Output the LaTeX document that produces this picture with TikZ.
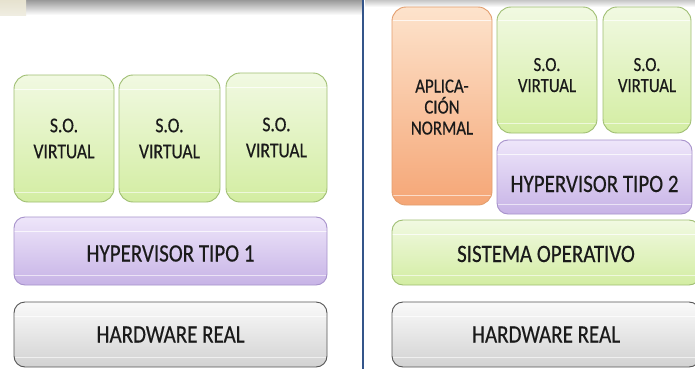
\documentclass[tikz,border=0pt]{standalone}
\usepackage{fontspec}
\setmainfont{Carlito}
\newfontfamily\labelfont[FakeStretch=0.84, FakeBold=0.4]{Carlito}
\definecolor{txt}{HTML}{1A1A1A}
\definecolor{grnTop}{HTML}{F1F9E2}
\definecolor{grnBot}{HTML}{D3EDA2}
\definecolor{grnEdge}{HTML}{9FBE72}
\definecolor{purTop}{HTML}{EEE6FA}
\definecolor{purBot}{HTML}{C7B3E6}
\definecolor{purEdge}{HTML}{A792CB}
\definecolor{gryTop}{HTML}{FAFAFA}
\definecolor{gryBot}{HTML}{D2D2D2}
\definecolor{gryEdge}{HTML}{555555}
\definecolor{orgTop}{HTML}{FDE3CC}
\definecolor{orgBot}{HTML}{F5A676}
\definecolor{orgEdge}{HTML}{E39E6E}
\definecolor{divider}{HTML}{34558A}
\definecolor{beige}{HTML}{E6E2CF}
\tikzset{
  layer/.style={rounded corners=11pt, line width=0.9pt, text=txt,
    align=center, inner sep=0pt,
    path picture={
      \draw[white, opacity=0.75, line width=1pt]
        ([yshift=-14pt]path picture bounding box.north west) --
        ([yshift=-14pt]path picture bounding box.north east);
      \draw[white, opacity=0.6, line width=1pt]
        ([yshift=10pt]path picture bounding box.south west) --
        ([yshift=10pt]path picture bounding box.south east);
    }},
  vmbox/.style={layer, rounded corners=14pt, draw=grnEdge, top color=grnTop, bottom color=grnBot},
  hypbox/.style={layer, draw=purEdge, top color=purTop, bottom color=purBot},
  hwbox/.style={layer, draw=gryEdge, top color=gryTop, bottom color=gryBot},
  appbox/.style={layer, rounded corners=14pt, draw=orgEdge, top color=orgTop, bottom color=orgBot},
  % single-line caps label; the argument moves the text down by half its value
  big/.style={font=\labelfont\fontsize{25}{28}\selectfont, text height=16pt+#1, text depth=0pt},
  big/.default=0pt,
  vmleft/.style={font=\labelfont\fontsize{21}{26}\selectfont},
  vmright/.style={font=\labelfont\fontsize{20}{21}\selectfont},
}
\begin{document}
\begin{tikzpicture}[x=1pt, y=-1pt]
\useasboundingbox (0,0) rectangle (695,369);
\clip (0,0) rectangle (695,369);
\fill[white] (0,0) rectangle (695,369);

% strip along the top edge
\shade[top color=gray!80, bottom color=white] (26,0) rectangle (362,15);
\shade[top color=gray!45, bottom color=white] (365,0) rectangle (695,7);
\shade[top color=beige, bottom color=beige!60] (0,0) rectangle (26,16);

% left stack: type 1 hypervisor
\node[vmbox, vmleft, minimum width=100pt, minimum height=127pt] (so1) at (64,138.5) {S.O.\\VIRTUAL};
\node[vmbox, vmleft, minimum width=101pt, minimum height=127pt] (so2) at (169.5,138.5) {S.O.\\VIRTUAL};
\node[vmbox, vmleft, minimum width=101pt, minimum height=129pt] (so3) at (276.5,137.5) {S.O.\\VIRTUAL};
\node[hypbox, big=5pt, minimum width=313pt, minimum height=68pt] (hyp1) at (170.5,251) {HYPERVISOR TIPO 1};
\node[hwbox, big, minimum width=313pt, minimum height=65pt] (hw1) at (170.5,334.5) {HARDWARE REAL};

% separator
\coordinate (sepTop) at (363,0);
\coordinate (sepBot) at (363,369);
\draw[divider, line width=2.4pt] (sepTop) -- (sepBot);

% right stack: type 2 hypervisor
\node[appbox, vmright, minimum width=100pt, minimum height=198pt, text height=57pt, text depth=0pt] (app) at (442,106) {APLICA-\\CIÓN\\NORMAL};
\node[vmbox, vmright, minimum width=100pt, minimum height=126pt, text height=44pt, text depth=0pt] (so4) at (547,70) {S.O.\\VIRTUAL};
\node[vmbox, vmright, minimum width=88pt, minimum height=126pt, text height=44pt, text depth=0pt] (so5) at (647,70) {S.O.\\VIRTUAL};
\node[hypbox, big=14pt, minimum width=195pt, minimum height=74pt] (hyp2) at (594.5,177) {HYPERVISOR TIPO 2};
\node[vmbox, rounded corners=11pt, big=3pt, minimum width=308pt, minimum height=65pt] (os) at (546,252.5) {SISTEMA OPERATIVO};
\node[hwbox, big, minimum width=308pt, minimum height=65pt] (hw2) at (546,334.5) {HARDWARE REAL};
\end{tikzpicture}
\end{document}
